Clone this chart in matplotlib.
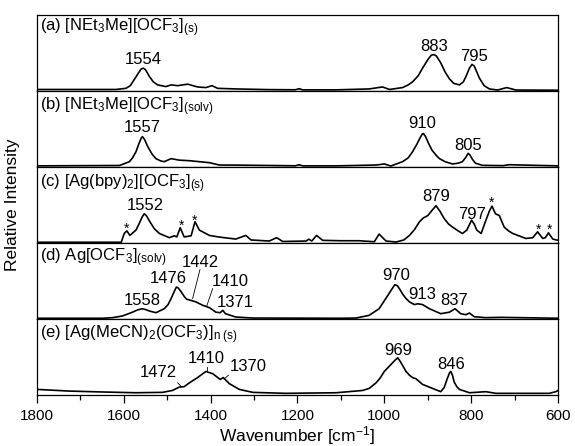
import matplotlib
matplotlib.use("Agg")
import matplotlib.pyplot as plt
from matplotlib.ticker import MultipleLocator

plt.rcParams['font.family'] = ['Liberation Sans', 'DejaVu Sans']
plt.rcParams['mathtext.fontset'] = 'custom'
plt.rcParams['mathtext.rm'] = 'Liberation Sans'
plt.rcParams['mathtext.it'] = 'Liberation Sans:italic'
plt.rcParams['mathtext.default'] = 'regular'

# ---- data (wavenumber, relative intensity within panel) ----
wn_a = [1800, 1618, 1595, 1585, 1576, 1566, 1560, 1555, 1550, 1541, 1532, 1522, 1503, 1491, 1476,
        1453, 1430, 1411, 1397, 1384, 1342, 1265, 1205, 1196, 1188, 1111, 1035, 1004, 988, 958,
        945, 935, 922, 912, 900, 892, 886, 880, 870, 860, 850, 840, 827, 818, 812, 804, 798, 793,
        787, 781, 770, 758, 739, 718, 697, 600]
int_a = [0.02, 0.02, 0.035, 0.07, 0.15, 0.24, 0.29, 0.30, 0.28, 0.19, 0.12, 0.08, 0.058, 0.08, 0.07,
         0.09, 0.053, 0.045, 0.07, 0.035, 0.027, 0.018, 0.016, 0.03, 0.015, 0.015, 0.027, 0.053, 0.02, 0.045,
         0.08, 0.12, 0.20, 0.30, 0.41, 0.47, 0.48, 0.46, 0.37, 0.25, 0.16, 0.10, 0.08, 0.12, 0.19, 0.30, 0.35, 0.33,
         0.25, 0.17, 0.07, 0.027, 0.013, 0.045, 0.013, 0.01]

wn_b = [1800, 1610, 1587, 1580, 1572, 1565, 1560, 1557, 1552, 1545, 1535, 1526, 1515, 1507, 1491,
        1472, 1449, 1426, 1403, 1380, 1342, 1265, 1205, 1196, 1188, 1111, 1019, 1000, 985, 958,
        945, 935, 925, 918, 913, 910, 905, 898, 890, 880, 873, 860, 843, 830, 820, 812, 807, 803,
        797, 790, 774, 727, 712, 600]
int_b = [0.015, 0.02, 0.07, 0.12, 0.20, 0.31, 0.38, 0.40, 0.36, 0.27, 0.17, 0.11, 0.08, 0.07, 0.11,
         0.09, 0.083, 0.07, 0.057, 0.026, 0.025, 0.02, 0.016, 0.03, 0.015, 0.015, 0.026, 0.04, 0.013, 0.07,
         0.12, 0.20, 0.30, 0.38, 0.43, 0.44, 0.40, 0.31, 0.22, 0.15, 0.11, 0.07, 0.04, 0.05, 0.07, 0.13, 0.18, 0.16,
         0.10, 0.05, 0.022, 0.018, 0.03, 0.015]

wn_c = [1800, 1606, 1599, 1593, 1586, 1572, 1565, 1558, 1553, 1548, 1541, 1530, 1518, 1495, 1484,
        1478, 1470, 1461, 1445, 1436, 1426, 1403, 1380, 1342, 1319, 1307, 1265, 1248, 1234, 1180,
        1174, 1167, 1156, 1142, 1100, 1058, 1046, 1023, 1012, 996, 973, 955, 942, 930, 919, 910,
        900, 890, 881, 872, 862, 852, 843, 830, 820, 810, 799, 793, 787, 777, 766, 758, 752, 744,
        735, 724, 714, 704, 674, 658, 647, 635, 629, 622, 612, 600]
int_c = [0.01, 0.01, 0.125, 0.16, 0.10, 0.17, 0.25, 0.34, 0.385, 0.36, 0.29, 0.19, 0.125, 0.07, 0.095,
         0.08, 0.20, 0.08, 0.095, 0.28, 0.17, 0.10, 0.078, 0.052, 0.10, 0.04, 0.026, 0.07, 0.02, 0.026,
         0.05, 0.026, 0.10, 0.035, 0.03, 0.03, 0.025, 0.017, 0.117, 0.026, 0.013, 0.04, 0.10, 0.18, 0.28, 0.33,
         0.36, 0.43, 0.49, 0.42, 0.32, 0.25, 0.21, 0.16, 0.125, 0.17, 0.30, 0.25, 0.17, 0.125, 0.30, 0.42, 0.485, 0.385,
         0.36, 0.21, 0.16, 0.125, 0.06, 0.07, 0.147, 0.06, 0.07, 0.134, 0.052, 0.035]

wn_d = [1800, 1649, 1626, 1603, 1580, 1568, 1558, 1550, 1541, 1526, 1507, 1498, 1491, 1484, 1479,
        1475, 1468, 1460, 1455, 1445, 1434, 1418, 1403, 1388, 1378, 1372, 1366, 1342, 1303, 1100,
        1065, 1035, 1012, 1000, 992, 983, 976, 970, 963, 958, 950, 942, 931, 923, 912, 896, 870,
        850, 837, 824, 812, 804, 793, 766, 731, 600]
int_d = [0.01, 0.01, 0.018, 0.04, 0.09, 0.12, 0.135, 0.125, 0.105, 0.083, 0.135, 0.19, 0.27, 0.36, 0.42,
         0.41, 0.36, 0.29, 0.26, 0.245, 0.225, 0.18, 0.15, 0.09, 0.083, 0.114, 0.07, 0.026, 0.013, 0.01,
         0.013, 0.048, 0.135, 0.24, 0.31, 0.39, 0.45, 0.44, 0.38, 0.33, 0.27, 0.225, 0.19, 0.20, 0.19, 0.135, 0.07,
         0.09, 0.135, 0.07, 0.057, 0.079, 0.03, 0.018, 0.022, 0.01]

wn_e = [1800, 1726, 1649, 1572, 1511, 1488, 1472, 1461, 1449, 1430, 1411, 1395, 1378, 1371, 1357,
        1334, 1303, 1227, 1111, 1050, 1035, 1019, 1010, 1000, 990, 985, 975, 969, 962, 955, 950,
        942, 935, 927, 912, 889, 870, 862, 856, 850, 847, 843, 839, 833, 827, 804, 766, 743, 620,
        605, 600]
int_e = [0.074, 0.052, 0.04, 0.03, 0.035, 0.06, 0.105, 0.11, 0.16, 0.23, 0.31, 0.28, 0.205, 0.23, 0.15,
         0.074, 0.035, 0.022, 0.03, 0.06, 0.087, 0.16, 0.22, 0.31, 0.37, 0.40, 0.46, 0.49, 0.43, 0.36, 0.31,
         0.26, 0.23, 0.214, 0.14, 0.087, 0.044, 0.10, 0.20, 0.29, 0.31, 0.26, 0.17, 0.11, 0.074, 0.03, 0.044, 0.022, 0.022,
         0.044, 0.06]

titles = [r"(a) [NEt$_3$Me][OCF$_3$]$_{(s)}$",
          r"(b) [NEt$_3$Me][OCF$_3$]$_{(solv)}$",
          r"(c) [Ag(bpy)$_2$][OCF$_3$]$_{(s)}$",
          r"(d) Ag[OCF$_3$]$_{(solv)}$",
          r"(e) [Ag(MeCN)$_2$(OCF$_3$)]$_{n\ (s)}$"]
title_y = [0.79, 0.75, 0.73, 0.76, 0.75]

# peak labels: (text, x, y)
labels_a = [("1554", 1555, 0.35), ("883", 885, 0.52), ("795", 793, 0.39)]
labels_b = [("1557", 1558, 0.465), ("910", 912, 0.51), ("805", 806, 0.22)]
labels_c = [("1552", 1550, 0.43), ("879", 881, 0.55), ("797", 799, 0.32)]
labels_d = [("1558", 1558, 0.19), ("1476", 1497, 0.48), ("1442", 1423, 0.69),
            ("1410", 1355, 0.43), ("1371", 1344, 0.16), ("970", 972, 0.51),
            ("913", 912, 0.26), ("837", 839, 0.18)]
labels_e = [("1472", 1520, 0.235), ("1410", 1409, 0.42), ("1370", 1314, 0.31),
            ("969", 968, 0.53), ("846", 847, 0.34)]
stars_c = [(1593, 0.13), (1468, 0.18), (1436, 0.24), (752, 0.48), (645, 0.12), (620, 0.12)]
# leader lines: (x0, y0, x1, y1)
leaders_d = [(1441.5, 0.27, 1424.6, 0.65), (1409, 0.17, 1395.4, 0.40)]
leaders_e = [(1476, 0.16, 1467, 0.11), (1409, 0.37, 1409, 0.31), (1369, 0.21, 1359, 0.26)]

spectra = [(wn_a, int_a), (wn_b, int_b), (wn_c, int_c), (wn_d, int_d), (wn_e, int_e)]
all_labels = [labels_a, labels_b, labels_c, labels_d, labels_e]
all_leaders = [[], [], [], leaders_d, leaders_e]

fig, axes = plt.subplots(5, 1, sharex=True, figsize=(5.75, 4.46), dpi=100)
fig.subplots_adjust(left=0.0643, right=0.9704, top=0.9664, bottom=0.1143, hspace=0)

for i, ax in enumerate(axes):
    wn, it = spectra[i]
    ax.plot(wn, it, color='black', lw=1.2, solid_joinstyle='round')
    ax.set_ylim(0, 1)
    ax.set_yticks([])
    for s in ax.spines.values():
        s.set_linewidth(0.9)
    ax.text(0.006, title_y[i], titles[i], transform=ax.transAxes, fontsize=12,
            ha='left', va='baseline')
    for t, x, y in all_labels[i]:
        ax.text(x, y, t, fontsize=12, ha='center', va='baseline')
    for x0, y0, x1, y1 in all_leaders[i]:
        ax.plot([x0, x1], [y0, y1], color='black', lw=0.6)
    if i < 4:
        ax.tick_params(axis='x', which='both', length=0)

for x, y in stars_c:
    axes[2].text(x, y, "*", fontsize=10, ha='center', va='baseline')

ax = axes[-1]
ax.set_xlim(1800, 600)
ax.xaxis.set_major_locator(MultipleLocator(200))
ax.xaxis.set_minor_locator(MultipleLocator(100))
ax.tick_params(axis='x', which='major', direction='out', length=6, width=0.9, labelsize=11, pad=4)
ax.tick_params(axis='x', which='minor', direction='out', length=3.5, width=0.9)
ax.set_xlabel(r"Wavenumber [cm$^{-1}$]", fontsize=12.5, labelpad=1)
fig.text(0.021, 0.54, "Relative Intensity", rotation=90, fontsize=12.5, ha='center', va='center')

fig.savefig("out.png", dpi=100)
